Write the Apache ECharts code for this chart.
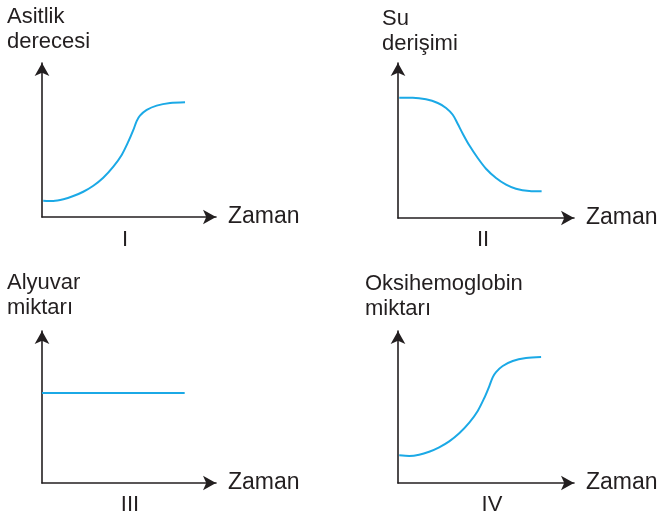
<!DOCTYPE html>
<html>
<head>
<meta charset="utf-8">
<script src="https://cdn.jsdelivr.net/npm/echarts@6/dist/echarts.min.js"></script>
<style>
  html, body { margin: 0; padding: 0; background: #fff; }
  #main { width: 661px; height: 521px; }
</style>
</head>
<body>
<div id="main"></div>
<script>
// panel titles (y axis names) and roman numerals
const yNames = ['Asitlik\nderecesi', 'Su\nderişimi', 'Alyuvar\nmiktarı', 'Oksihemoglobin\nmiktarı'];
const numerals = ['I', 'II', 'III', 'IV'];
const xName = 'Zaman';

// curve values (time, level), axes run 0..10
const asitlik = [[0.07, 1.06], [0.65, 1.04], [1.23, 1.15], [1.8, 1.36], [2.37, 1.64], [2.95, 2.03],
  [3.52, 2.55], [4.1, 3.27], [4.58, 4.03], [4.96, 4.89], [5.25, 5.65], [5.44, 6.23], [5.63, 6.58],
  [6.02, 6.95], [6.59, 7.23], [7.36, 7.4], [8.22, 7.45]];
const suDerisimi = [[0.07, 7.76], [0.84, 7.76], [1.59, 7.66], [2.26, 7.42], [2.73, 7.1], [3.11, 6.66],
  [3.39, 6.08], [3.68, 5.44], [4.05, 4.69], [4.53, 3.87], [5.0, 3.18], [5.57, 2.58], [6.14, 2.15],
  [6.7, 1.89], [7.46, 1.74], [8.16, 1.72]];
const alyuvar = [[0, 5.92], [8.2, 5.92]];
const oksihemoglobin = [[0.07, 1.82], [0.64, 1.78], [1.2, 1.86], [1.77, 2.06], [2.34, 2.35], [2.91, 2.74],
  [3.48, 3.27], [4.05, 3.97], [4.53, 4.74], [4.91, 5.61], [5.19, 6.38], [5.38, 6.95], [5.57, 7.3],
  [5.95, 7.7], [6.52, 8.03], [7.27, 8.22], [8.13, 8.29]];

const seriesData = [asitlik, suDerisimi, alyuvar, oksihemoglobin];

const font = '"Liberation Sans", Arial, Helvetica, sans-serif';
const ink = '#231f20';
const curveColor = '#1ba9e6';

const grids = [
  { left: 42, top: 63, width: 174, height: 154 },
  { left: 398, top: 63, width: 176, height: 155 },
  { left: 42, top: 331, width: 174, height: 152 },
  { left: 398, top: 331, width: 176, height: 152 }
];

const titlePos = [[7, 4], [382, 6], [7, 270], [365, 271]];
const numeralPos = [[125, 240], [483, 240], [130, 505], [492, 505]];

const axisLine = {
  show: true,
  symbol: ['none', 'arrow'],
  symbolSize: [11, 13],
  lineStyle: { color: ink, width: 1.6 }
};

const chart = echarts.init(document.getElementById('main'));
chart.setOption({
  animation: false,
  grid: grids,
  xAxis: grids.map((g, i) => ({
    type: 'value', gridIndex: i, min: 0, max: 10,
    axisLine: axisLine,
    axisTick: { show: false }, axisLabel: { show: false }, splitLine: { show: false },
    name: xName, nameLocation: 'end', nameGap: 12,
    nameTextStyle: { color: ink, fontSize: 23, fontFamily: font }
  })),
  yAxis: grids.map((g, i) => ({
    type: 'value', gridIndex: i, min: 0, max: 10,
    axisLine: axisLine,
    axisTick: { show: false }, axisLabel: { show: false }, splitLine: { show: false }
  })),
  graphic: yNames.map((t, i) => ({
    type: 'text', x: titlePos[i][0], y: titlePos[i][1],
    style: { text: t, fill: ink, font: '22px ' + font, lineHeight: 25, align: 'left', verticalAlign: 'top' }
  })).concat(numerals.map((t, i) => ({
    type: 'text', x: numeralPos[i][0], y: numeralPos[i][1],
    style: { text: t, fill: ink, font: '22px ' + font, align: 'center', verticalAlign: 'middle' }
  }))),
  series: seriesData.map((d, i) => ({
    type: 'line', xAxisIndex: i, yAxisIndex: i,
    data: d, smooth: 0.3, showSymbol: false,
    lineStyle: { color: curveColor, width: 2 }
  }))
});
</script>
</body>
</html>
